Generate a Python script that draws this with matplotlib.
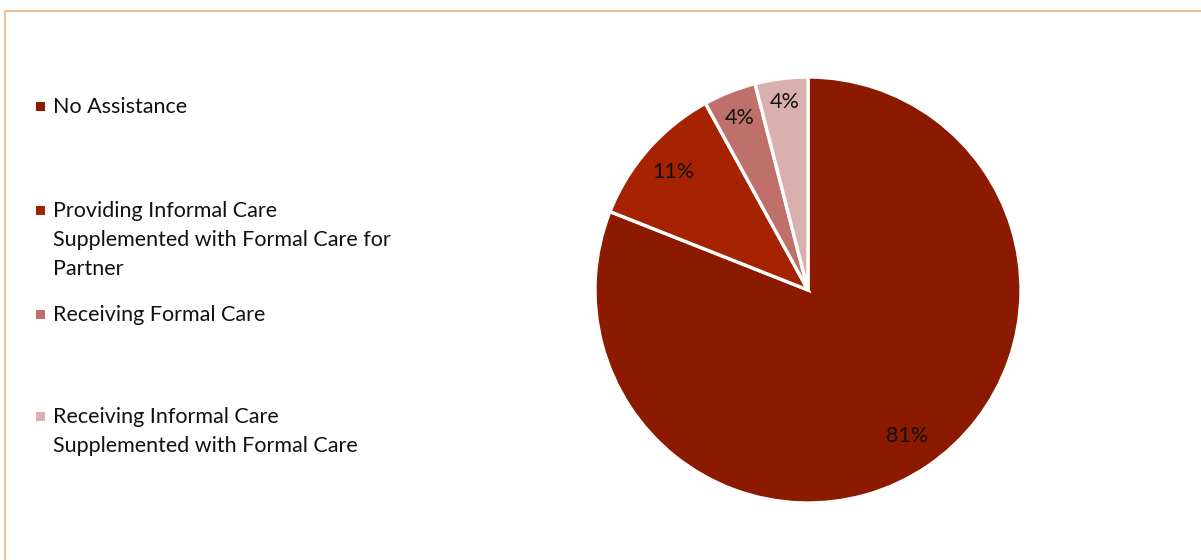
import matplotlib.pyplot as plt
import numpy as np
from matplotlib.patches import Rectangle

labels = ["No Assistance",
          "Providing Informal Care\nSupplemented with Formal Care for\nPartner",
          "Receiving Formal Care",
          "Receiving Informal Care\nSupplemented with Formal Care"]
shares = [81, 11, 4, 4]
colors = ["#8B1A00", "#A52300", "#C0706A", "#D9B0AE"]
pct_dist = [0.83, 0.84, 0.87, 0.89]

plt.rcParams['font.family'] = ['Lato', 'DejaVu Sans']

W, H = 1201, 560
fig = plt.figure(figsize=(W / 100, H / 100), dpi=100)

# orange frame (right/bottom sides fall outside the picture)
fig.add_artist(Rectangle((4.5 / W, -0.1), 1.2, 1 - 11 / H + 0.1,
                         transform=fig.transFigure, fill=False,
                         edgecolor="#F4B183", linewidth=1.2))

# pie
cx, cy, r = 808, 270, 213
ax = fig.add_axes([(cx - r) / W, (cy - r) / H, 2 * r / W, 2 * r / H])
wedges, texts, autotexts = ax.pie(shares, colors=colors, startangle=90, counterclock=False,
                                  autopct='%d%%', radius=1,
                                  wedgeprops=dict(edgecolor="white", linewidth=2.4),
                                  textprops=dict(fontsize=15.5, color="#111111"))
for w, t, d in zip(wedges, autotexts, pct_dist):
    ang = np.deg2rad((w.theta1 + w.theta2) / 2)
    t.set_position((d * np.cos(ang), d * np.sin(ang)))
ax.set_xlim(-1, 1)
ax.set_ylim(-1, 1)
ax.set_aspect('auto')
ax.axis('off')

# legend, drawn by hand to keep Excel-like spacing
top_y = [105, 209, 313, 415]
for lab, col, y in zip(labels, colors, top_y):
    fig.add_artist(Rectangle((36 / W, 1 - (y + 6) / H), 9 / W, 9 / H,
                             transform=fig.transFigure, color=col, linewidth=0))
    fig.text(53 / W, 1 - (y - 8) / H, lab, fontsize=15.5, va='top', ha='left',
             color="#111111", linespacing=1.57)

fig.savefig("out.png", dpi=100)
